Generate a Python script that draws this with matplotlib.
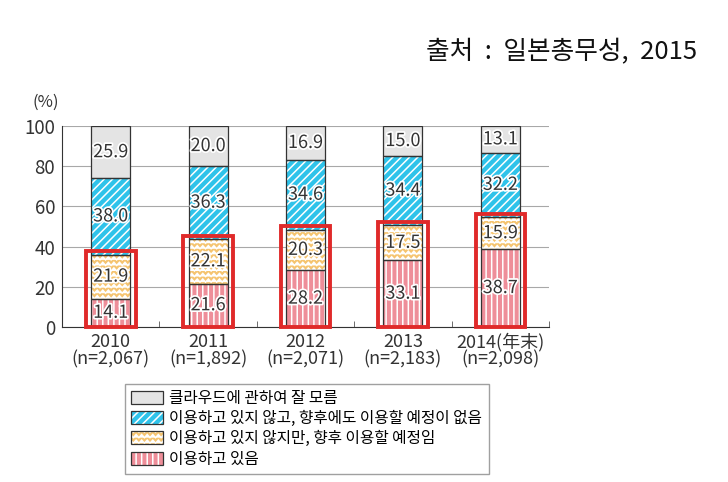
import numpy as np
import matplotlib
matplotlib.use("Agg")
import matplotlib.pyplot as plt
import matplotlib.patheffects as pe
from matplotlib import hatch as mhatch
from matplotlib.path import Path

plt.rcParams['font.family'] = ['Noto Sans CJK KR', 'DejaVu Sans']
plt.rcParams['hatch.linewidth'] = 1.1

years = ['2010', '2011', '2012', '2013', '2014(年末)']
samples = ['2,067', '1,892', '2,071', '2,183', '2,098']
using = [14.1, 21.6, 28.2, 33.1, 38.7]
will_use = [21.9, 22.1, 20.3, 17.5, 15.9]
no_plan = [38.0, 36.3, 34.6, 34.4, 32.2]
unknown = [25.9, 20.0, 16.9, 15.0, 13.1]
labels = ['클라우드에 관하여 잘 모름',
          '이용하고 있지 않고, 향후에도 이용할 예정이 없음',
          '이용하고 있지 않지만, 향후 이용할 예정임',
          '이용하고 있음']


# zigzag hatch, takes the place of the '*' stars pattern
class ZigZagHatch(mhatch.HatchPatternBase):
    def __init__(self, hatch, density):
        self.num_lines = hatch.count('*') * density
        self.teeth = self.num_lines
        self.num_vertices = self.num_lines * (2 * self.teeth + 1)

    def set_vertices_and_codes(self, vertices, codes):
        n, t = self.num_lines, self.teeth
        k = 2 * t + 1
        xs = np.linspace(0, 1, k)
        amp = 0.28 / n
        offs = np.where(np.arange(k) % 2 == 0, -amp, amp)
        for i in range(n):
            y = (i + 0.5) / n
            vertices[i * k:(i + 1) * k, 0] = xs
            vertices[i * k:(i + 1) * k, 1] = y + offs
            codes[i * k] = Path.MOVETO
            codes[i * k + 1:(i + 1) * k] = Path.LINETO


mhatch._hatch_types = [h for h in mhatch._hatch_types if h is not mhatch.Stars] + [ZigZagHatch]

fig = plt.figure(figsize=(7.28, 4.82), dpi=100)
ax = fig.add_axes([0.0852, 0.3216, 0.669, 0.4170])

x = np.arange(len(years))
w = 0.4
series = [
    (using, '#ee8e99', '|||'),
    (will_use, '#f5c470', '***'),
    (no_plan, '#2fc3ea', '////'),
    (unknown, '#e4e4e4', ''),
]
bottom = np.zeros(len(years))
handles = []
for vals, color, hatch in series:
    vals = np.array(vals)
    fill = ax.bar(x, vals, w, bottom=bottom, color=color, hatch=hatch,
                  edgecolor='white', linewidth=0, zorder=2)
    edge = ax.bar(x, vals, w, bottom=bottom, fill=False, edgecolor='#333333',
                  linewidth=0.9, zorder=3)
    for xi, b, v in zip(x, bottom, vals):
        ax.text(xi, b + v / 2, f'{v:.1f}', ha='center', va='center', fontsize=13,
                color='#333333', zorder=5,
                path_effects=[pe.withStroke(linewidth=2.5, foreground='white')])
    handles.append((fill[0], edge[0]))
    bottom = bottom + vals

# red boxes around "using" + "will use"
lower = np.array(using) + np.array(will_use)
ax.bar(x, lower + 1.8, 0.51, fill=False, edgecolor='#e02a2a', linewidth=2.8,
       zorder=4, clip_on=False)

ax.set_xlim(-0.5, 4.5)
ax.set_ylim(0, 100)
ax.set_yticks([0, 20, 40, 60, 80, 100])
ax.yaxis.grid(True, color='#a8a8a8', linewidth=0.8)
ax.set_axisbelow(True)
ax.tick_params(axis='y', length=0, labelsize=13.5, labelcolor='#333333', pad=5)
ax.set_xticks(x)
ax.set_xticklabels([f'{y}\n(n={n})' for y, n in zip(years, samples)],
                   fontsize=13, color='#333333', linespacing=0.95)
ax.set_xticks(np.arange(0.5, 4.6, 1), minor=True)
ax.tick_params(axis='x', which='major', length=0, pad=4)
ax.tick_params(axis='x', which='minor', length=4, direction='in', color='#555555')
for s in ['top', 'right']:
    ax.spines[s].set_visible(False)
ax.spines['left'].set_color('#333333')
ax.spines['bottom'].set_color('#333333')

fig.text(0.044, 0.787, '(%)', fontsize=12, color='#333333', ha='left', va='center')
fig.text(0.957, 0.892, '출처  :  일본총무성,  2015', fontsize=18.5, ha='right', va='center',
         color='#111111')

leg = fig.legend(handles[::-1], labels, loc='upper left',
                 bbox_to_anchor=(0.161, 0.22, 0.522, 0.0), mode='expand',
                 fontsize=11.3, frameon=True, fancybox=False, edgecolor='#888888',
                 handlelength=2.0, handleheight=0.9, handletextpad=0.4,
                 labelspacing=0.2, borderpad=0.4)
leg.get_frame().set_linewidth(1.0)

fig.savefig('out.png', dpi=100)
